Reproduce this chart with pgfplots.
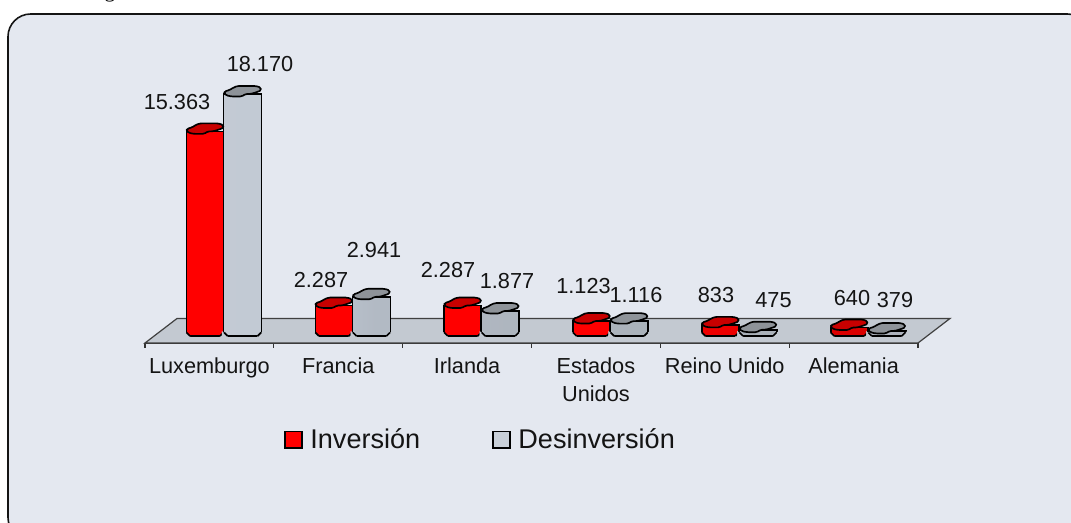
\documentclass[border=0pt]{standalone}
\usepackage{pgfplots}
\usepackage{pgfplotstable}
\usepackage{fontspec}
\setmainfont{Liberation Sans}
\newfontfamily\serifgl{Liberation Serif}
\pgfplotsset{compat=1.18}
\definecolor{panel}{RGB}{228,232,240}
\definecolor{floorc}{RGB}{195,201,209}
\definecolor{capred}{RGB}{200,0,0}
\definecolor{capgray}{RGB}{142,147,153}
\definecolor{grayL}{RGB}{200,207,216}
\definecolor{ink}{RGB}{20,20,20}
\pgfdeclarehorizontalshading{barR}{100bp}{
  rgb(0bp)=(1,0,0); rgb(55bp)=(1,0,0); rgb(72bp)=(.87,0,0); rgb(79bp)=(.82,0,0); rgb(80bp)=(.93,.35,.35); rgb(81.5bp)=(.82,0,0); rgb(90bp)=(.78,0,0); rgb(100bp)=(.72,0,0)}
\pgfdeclarehorizontalshading{barG}{100bp}{
  rgb(0bp)=(.78,.81,.85); rgb(30bp)=(.76,.79,.83); rgb(36bp)=(.70,.73,.77); rgb(60bp)=(.66,.69,.72); rgb(76bp)=(.68,.70,.74); rgb(78bp)=(.60,.63,.66); rgb(100bp)=(.53,.55,.58)}
\newcommand{\capshape}[1]{%
  \draw[fill=#1,draw=black,line width=1.25pt,line join=round,rounded corners=1.1pt,x=.75pt,y=.75pt]
   (-18.5,0.5)--(-18,2.5)--(-13,4)--(-9,6.5)--(-5,8)--(13,8)--(18,6.5)--(18.5,3.5)--(13,1.5)--(8,0)--(3,0)--(-1,-2.5)--(-11,-2.5)--(-16,-1.5)--cycle;}
\newcommand{\baseshape}{%
  \fill[floorc,x=.75pt,y=.75pt] (-20.5,-1.5)--(-14.5,-1.5)--(-20.5,4.5)--cycle (20.5,-1.5)--(14.5,-1.5)--(20.5,4.5)--cycle;
  \draw[black,line width=1.25pt,x=.75pt,y=.75pt] (-18.5,3.5)--(-15,0) (18.5,3.5)--(15,0);}
\pgfdeclareplotmark{capR}{\capshape{capred}}
\pgfdeclareplotmark{capG}{\capshape{capgray}}
\pgfdeclareplotmark{baseB}{\baseshape}
\pgfplotstableread{
i inv des
0 15363 18170
1 2287 2941
2 2287 1877
3 1123 1116
4 833 475
5 640 379
}\datatable
\begin{document}
\begin{tikzpicture}
\begin{scope}[x=.75pt,y=-.75pt]
  \begin{scope}
  \clip (0,0) rectangle (1071,523);
  \node[font=\fontsize{16}{16}\serifgl,anchor=base,inner sep=0pt] at (110,-2.5) {g};
  \draw[fill=panel,draw=ink,line width=1.2pt] (8,14) [rounded corners=17pt] rectangle (1090,540);
  \end{scope}
  \coordinate (O) at (145,343);
\end{scope}
\begin{axis}[
  at={(O)},anchor=south west,
  scale only axis,
  width=579.75pt,height=195.06pt,
  xmin=-0.5,xmax=5.5,ymin=-525.5,ymax=19000,
  clip=false,
  axis x line=bottom,axis y line=none,
  axis line style={-,draw=black!80,line width=0.9pt},
  xtick={0,1,2,3,4,5},
  xticklabels={Luxemburgo,Francia,Irlanda,Estados\\Unidos,Reino Unido,Alemania},
  minor xtick={-0.5,0.5,1.5,2.5,3.5,4.5,5.5},
  major tick length=0pt,minor tick length=3.75pt,
  tick align=outside,
  minor tick style={draw=black!80,line width=0.8pt},
  xticklabel style={font=\fontsize{16.3}{21}\selectfont,align=center,anchor=north,inner sep=0pt,yshift=-10.5pt,text=ink},
  legend style={at={(0.1798,-0.373)},anchor=west,draw=none,fill=none,inner sep=0pt,
    font=\fontsize{20.3}{22}\selectfont,text=ink,legend columns=2,
    /tikz/every even column/.append style={column sep=52pt}},
]
\addplot[fill=floorc,draw=black!75,line width=0.9pt,forget plot]
  coordinates {(-0.5,-525.5) (5.5,-525.5) (5.7484,1313.8) (-0.2516,1313.8)} -- cycle;
\addplot[ybar,bar width=27.75pt,bar shift=0pt,draw=black,line width=1.25pt,
  shading=barR,shading angle=0,forget plot]
  table[x expr=\thisrow{i}-0.0342,y=inv] {\datatable};
\addplot[only marks,mark=baseB,forget plot] table[x expr=\thisrow{i}-0.0342,y expr=0] {\datatable};
\addplot[only marks,mark=capR,forget plot] table[x expr=\thisrow{i}-0.0342,y=inv] {\datatable};
\addplot[ybar,bar width=28.5pt,bar shift=0pt,draw=black,line width=1.25pt,
  shading=barG,shading angle=0,forget plot]
  table[x expr=\thisrow{i}+0.2577,y=des] {\datatable};
\addplot[only marks,mark=baseB,forget plot] table[x expr=\thisrow{i}+0.2577,y expr=0] {\datatable};
\addplot[only marks,mark=capG,forget plot] table[x expr=\thisrow{i}+0.2577,y=des] {\datatable};
\addlegendimage{legend image code/.code={\draw[fill=red,draw=black,line width=1.25pt] (0pt,-6pt) rectangle (12.5pt,6.5pt); \path[draw=none] (0,0) -- (17pt,0);}}
\addlegendentry{Inversión}
\addlegendimage{legend image code/.code={\draw[fill=grayL,draw=black,line width=1.25pt] (0pt,-6pt) rectangle (12.5pt,6.5pt); \path[draw=none] (0,0) -- (17pt,0);}}
\addlegendentry{Desinversión}
\end{axis}
\begin{scope}[x=.75pt,y=-.75pt,every node/.style={font=\fontsize{16.3}{16.3}\selectfont,anchor=base,inner sep=0pt,text=ink}]
  \node at (177,110) {15.363};
  \node at (260,72) {18.170};
  \node at (321,288) {2.287};
  \node at (374,258) {2.941};
  \node at (448,278) {2.287};
  \node at (507,289) {1.877};
  \node at (583.5,294) {1.123};
  \node at (636,303) {1.116};
  \node at (716,303) {833};
  \node at (773.5,308) {475};
  \node at (852,306) {640};
  \node at (895,308) {379};
  \pgfresetboundingbox
  \path[use as bounding box] (0,0) rectangle (1071,523);
\end{scope}
\end{tikzpicture}
\end{document}
